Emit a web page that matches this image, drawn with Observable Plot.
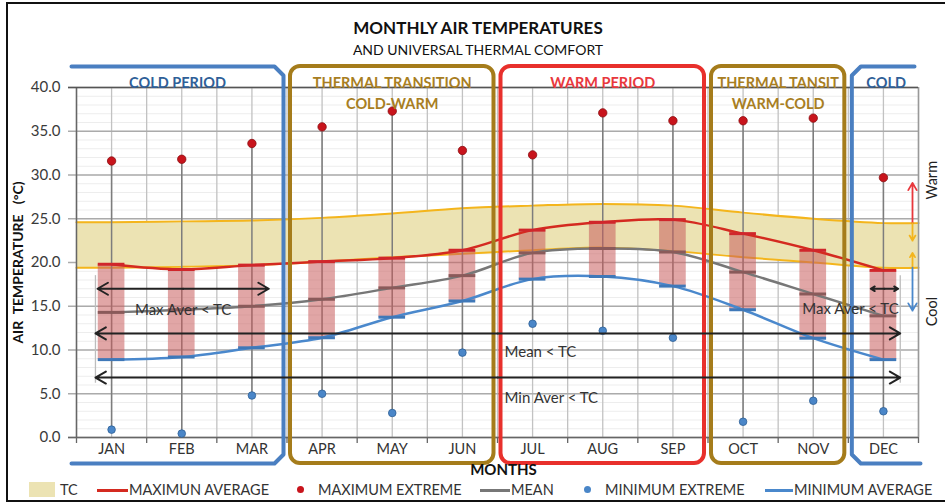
<!DOCTYPE html>
<html>
<head>
<meta charset="utf-8">
<script src="https://cdn.jsdelivr.net/npm/d3@7"></script>
<script src="https://cdn.jsdelivr.net/npm/@observablehq/plot@0.6"></script>
<style>
  body { margin: 0; background: #fff; font-family: Lato, "Open Sans", sans-serif; }
  #wrap { position: relative; width: 945px; height: 504px; overflow: hidden; background: #fff; }
  #chart { position: absolute; left: 0; top: 0; }
  #border { position: absolute; left: 6px; top: 2px; width: 960px; height: 500px; border: 2px solid #111; border-right: none; box-sizing: border-box; pointer-events: none; }
  .ttl { position: absolute; left: 0; width: 956px; text-align: center; color: #111; white-space: nowrap; }
  .leg { position: absolute; top: 481px; height: 18px; font-size: 14.5px; color: #333; line-height: 18px; white-space: nowrap; }
  .sw { position: absolute; }
</style>
</head>
<body>
<div id="wrap">
  <div id="chart"></div>
  <div class="ttl" style="top:17px;font-size:17px;font-weight:bold;">MONTHLY AIR TEMPERATURES</div>
  <div class="ttl" style="top:41px;font-size:14px;">AND UNIVERSAL THERMAL COMFORT</div>
  <div id="legend"></div>
  <div id="border"></div>
</div>
<script>
// ---------- data ----------
const months = ["JAN","FEB","MAR","APR","MAY","JUN","JUL","AUG","SEP","OCT","NOV","DEC"];
const maxExtreme = [31.6, 31.8, 33.6, 35.5, 37.3, 32.8, 32.3, 37.1, 36.2, 36.2, 36.5, 29.7];
const minExtreme = [0.9, 0.45, 4.8, 5.0, 2.8, 9.7, 13.0, 12.2, 11.4, 1.8, 4.2, 3.0];
const maxAverage = [19.8, 19.2, 19.7, 20.1, 20.5, 21.4, 23.7, 24.6, 24.9, 23.3, 21.4, 19.1];
const meanTemp   = [14.3, 14.6, 15.0, 15.8, 17.1, 18.5, 21.1, 21.6, 21.2, 18.9, 16.4, 13.9];
const minAverage = [8.9, 9.2, 10.25, 11.4, 13.75, 15.6, 18.1, 18.4, 17.3, 14.6, 11.35, 8.9];
const tcUpper    = [24.6, 24.7, 24.8, 25.1, 25.6, 26.2, 26.5, 26.7, 26.5, 25.7, 25.0, 24.5];
const tcLower    = [19.4, 19.5, 19.7, 20.1, 20.6, 21.0, 21.4, 21.7, 21.3, 20.6, 20.0, 19.4];
const yTicks = [0, 5, 10, 15, 20, 25, 30, 35, 40];

const periodLine1  = ["COLD PERIOD", "THERMAL TRANSITION", "WARM PERIOD", "THERMAL TANSIT", "COLD"];
const periodLine2  = ["", "COLD-WARM", "", "WARM-COLD", ""];
const periodStart  = [0, 3, 6, 9, 11];
const periodEnd    = [2, 5, 8, 10, 11];
const periodColor  = ["#4a7fc1", "#a57c1b", "#e8302c", "#a57c1b", "#4a7fc1"];
const periodText   = ["#2f5f98", "#a87e22", "#e8383d", "#a87e22", "#2f5f98"];
const periodOpen   = ["left", null, null, null, "right"];

const noteTexts = ["Max Aver < TC", "Mean < TC", "Min Aver < TC", "Max Aver < TC"];
const noteX     = [1.02, 5.6, 5.6, 10.53];
const noteY     = [14.5, 9.7, 4.55, 14.7];
const noteAnchor= ["middle", "start", "start", "middle"];
const arrowX1   = [-0.2, 10.82, -0.23, -0.23];
const arrowX2   = [2.24, 11.21, 11.24, 11.24];
const arrowY    = [17.0, 17.0, 11.9, 6.85];

const yLabel = "AIR\u00a0\u00a0TEMPERATURE\u00a0\u00a0\u00a0(°C)";
const xLabel = "MONTHS";
const legendLabels = ["TC", "MAXIMUN AVERAGE", "MAXIMUM EXTREME", "MEAN", "MINIMUM EXTREME", "MINIMUM AVERAGE"];

// ---------- layout ----------
const W = 945, H = 504, mL = 76, mR = 27, mT = 87, mB = 67;
const kx = (W - mL - mR) / months.length;   // px per month
const ky = (H - mT - mB) / 40;              // px per degree
const half = 0.19;                          // half bar width (months)

const rows = months.map((m, i) => ({
  i, m, maxExt: maxExtreme[i], minExt: minExtreme[i], maxAvg: maxAverage[i],
  mean: meanTemp[i], minAvg: minAverage[i], up: tcUpper[i], lo: tcLower[i]
}));
const n = months.length;
const tcRows = [{i: -0.5, up: tcUpper[0], lo: tcLower[0]}, ...rows, {i: n - 0.5, up: tcUpper[n-1], lo: tcLower[n-1]}];
const halfSteps = d3.range(-0.5, n, 0.5);
const boundaries = d3.range(-0.5, n, 1);

// period boxes
const boxTop = 40 + (mT - 66) / ky;
const boxBot = -(463 - (H - mB)) / ky;
const ins = 3.5 / kx;
const closedBoxes = [], openLines = [], periodRows = [];
const cx = 9 / kx, cy = 9 / ky;
periodLine1.forEach((nm, p) => {
  let x1 = periodStart[p] - 0.5 + ins, x2 = periodEnd[p] + 0.5 - ins;
  if (!periodOpen[p]) closedBoxes.push({x1, x2, c: periodColor[p]});
  else if (periodOpen[p] === "left") {
    x1 = -0.5 - 5 / kx;
    [[x1, boxTop], [x2 - cx, boxTop], [x2, boxTop - cy], [x2, boxBot + cy], [x2 - cx, boxBot], [x1, boxBot]]
      .forEach(([x, y]) => openLines.push({x, y, p, c: periodColor[p]}));
  } else {
    x2 = n - 0.5 + 2 / kx;
    [[n - 0.5 - 4 / kx, boxTop], [x1 + cx, boxTop], [x1, boxTop - cy], [x1, boxBot + cy], [x1 + cx, boxBot], [x2, boxBot]]
      .forEach(([x, y]) => openLines.push({x, y, p, c: periodColor[p]}));
  }
  periodRows.push({t1: nm, t2: periodLine2[p], x: (x1 + x2) / 2, c: periodText[p]});
});

// black arrows (double headed: two arrows from the middle)
const blackArrows = [];
arrowY.forEach((y, k) => {
  const mid = (arrowX1[k] + arrowX2[k]) / 2;
  blackArrows.push({x1: mid, x2: arrowX1[k], y}, {x1: mid, x2: arrowX2[k], y});
});
const notes = noteTexts.map((t, k) => ({t, x: noteX[k], y: noteY[k], a: noteAnchor[k]}));

// warm / cool arrows at right
const ax = n - 0.5 - 6 / kx;
const warmCool = [
  {y1: tcUpper[n-1], y2: 29.1, c: "#e8383d"},
  {y1: tcUpper[n-1], y2: 22.5, c: "#f4b51c"},
  {y1: tcLower[n-1], y2: 21.1, c: "#f4b51c"},
  {y1: tcLower[n-1], y2: 14.5, c: "#4a88cc"}
].map(d => ({...d, x: ax}));

const plot = Plot.plot({
  width: W, height: H,
  marginLeft: mL, marginRight: mR, marginTop: mT, marginBottom: mB,
  x: {domain: [-0.5, n - 0.5], axis: null},
  y: {domain: [0, 40], axis: null},
  style: {fontFamily: "Lato, 'Open Sans', sans-serif", fontSize: "14px", color: "#333", background: "transparent", overflow: "visible"},
  marks: [
    // grid
    Plot.ruleY(d3.range(0, 41, 1), {stroke: "#ededed", strokeWidth: 1}),
    Plot.ruleX(halfSteps, {stroke: "#c2c2c2", strokeWidth: 1.3}),
    Plot.ruleY(yTicks, {x1: -0.5 - 8 / kx, x2: n - 0.5, stroke: "#ababab", strokeWidth: 1.4}),
    // TC band
    Plot.areaY(tcRows, {x: "i", y1: "lo", y2: "up", fill: "#ece3b3", curve: "catmull-rom"}),
    Plot.lineY(tcRows, {x: "i", y: "up", stroke: "#f4b51c", strokeWidth: 2, curve: "catmull-rom"}),
    Plot.lineY(tcRows, {x: "i", y: "lo", stroke: "#f4b51c", strokeWidth: 2, curve: "catmull-rom"}),
    // axes lines
    Plot.ruleX([-0.5], {stroke: "#666", strokeWidth: 1.5}),
    Plot.ruleX([n - 0.5], {stroke: "#999", strokeWidth: 1.5}),
    Plot.ruleY([0], {x1: -0.5 - 8 / kx, x2: n - 0.5, stroke: "#666", strokeWidth: 1.5}),
    Plot.ruleY([40], {x1: -0.5 - 8 / kx, x2: n - 0.5, stroke: "#555", strokeWidth: 1.5}),
    Plot.ruleX(boundaries, {y1: 0, y2: -6 / ky, stroke: "#666", strokeWidth: 1.3}),
    // end markers of annotation arrows
    Plot.ruleX([arrowX1[2], arrowX2[2]], {y1: 6.2, y2: 18.5, stroke: "#bdbdbd", strokeWidth: 1.3}),
    // stems
    Plot.ruleX(rows, {x: "i", y1: "minExt", y2: "maxExt", stroke: "#7d7d7d", strokeWidth: 1.5}),
    // bars
    Plot.rect(rows, {x1: d => d.i - half, x2: d => d.i + half, y1: "minAvg", y2: "maxAvg", fill: "#c85c5c", fillOpacity: 0.55}),
    // lines
    Plot.lineY(rows, {x: "i", y: "mean", stroke: "#777", strokeWidth: 2.5, curve: "catmull-rom"}),
    Plot.lineY(rows, {x: "i", y: "minAvg", stroke: "#4a88cc", strokeWidth: 2.5, curve: "catmull-rom"}),
    Plot.lineY(rows, {x: "i", y: "maxAvg", stroke: "#d42a20", strokeWidth: 2.5, curve: "catmull-rom"}),
    // markers
    Plot.ruleY(rows, {x1: d => d.i - half, x2: d => d.i + half, y: "mean", stroke: "#8a5a5a", strokeWidth: 3}),
    Plot.ruleY(rows, {x1: d => d.i - half, x2: d => d.i + half, y: "minAvg", stroke: "#3f78b8", strokeWidth: 3}),
    Plot.ruleY(rows, {x1: d => d.i - half, x2: d => d.i + half, y: "maxAvg", stroke: "#d0262b", strokeWidth: 3}),
    // extremes
    Plot.dot(rows, {x: "i", y: "maxExt", r: 4.2, fill: "#c8141c", stroke: "#8a0e12", strokeWidth: 0.8}),
    Plot.dot(rows, {x: "i", y: "minExt", r: 3.8, fill: "#4a86c8", stroke: "#2d5f96", strokeWidth: 0.8}),
    // period boxes
    Plot.rect(closedBoxes, {x1: "x1", x2: "x2", y1: boxBot, y2: boxTop, rx: 10, ry: 10, fill: "none", stroke: "c", strokeWidth: 4}),
    Plot.line(openLines, {x: "x", y: "y", z: "p", stroke: "c", strokeWidth: 4, strokeLinejoin: "round", curve: "linear"}),
    Plot.text(periodRows, {x: "x", frameAnchor: "top", textAnchor: "middle", dy: -10, text: "t1", fill: "c", fontWeight: "bold", fontSize: 14.5}),
    Plot.text(periodRows, {x: "x", frameAnchor: "top", textAnchor: "middle", dy: 11, text: "t2", fill: "c", fontWeight: "bold", fontSize: 14.5}),
    // black annotation arrows & notes
    Plot.arrow(blackArrows, {x1: "x1", x2: "x2", y1: "y", y2: "y", stroke: "#222", strokeWidth: 2, headLength: 9}),
    Plot.text(notes.filter(d => d.a === "middle"), {x: "x", y: "y", text: "t", textAnchor: "middle", fill: "#333", fontSize: 15}),
    Plot.text(notes.filter(d => d.a === "start"), {x: "x", y: "y", text: "t", textAnchor: "start", fill: "#333", fontSize: 15}),
    // warm / cool arrows
    Plot.arrow(warmCool, {x1: "x", x2: "x", y1: "y1", y2: "y2", stroke: "c", strokeWidth: 1.8, headLength: 7}),
    Plot.text(["Warm"], {x: n - 0.5, dx: 14, y: 29.4, rotate: -90, textAnchor: "middle", fontSize: 14.5, fill: "#222"}),
    Plot.text(["Cool"], {x: n - 0.5, dx: 14, y: 14.4, rotate: -90, textAnchor: "middle", fontSize: 14.5, fill: "#222"}),
    // axis labels
    Plot.text(yTicks, {y: d => d, text: d => d.toFixed(1), frameAnchor: "left", textAnchor: "end", dx: -16, fontSize: 15, fill: "#3a3a3a"}),
    Plot.text(rows, {x: "i", text: "m", frameAnchor: "bottom", textAnchor: "middle", dy: 16, fontSize: 14.5, fill: "#333"}),
    Plot.text([yLabel], {frameAnchor: "left", textAnchor: "middle", dx: -58, rotate: -90, fontWeight: "bold", fontSize: 14, fill: "#111"}),
    Plot.text([xLabel], {frameAnchor: "bottom", textAnchor: "middle", dx: 6, dy: 37, fontWeight: "bold", fontSize: 15, fill: "#111"})
  ]
});
document.getElementById("chart").appendChild(plot);

// ---------- legend ----------
const leg = document.getElementById("legend");
const items = [
  {kind: "swatch", x: 29, tx: 60},
  {kind: "line", c: "#d42a20", x: 97, w: 31, tx: 129},
  {kind: "dot", c: "#c8141c", x: 297, tx: 318},
  {kind: "line", c: "#777", x: 480, w: 30, tx: 511},
  {kind: "dot", c: "#4a86c8", x: 584, tx: 605},
  {kind: "line", c: "#4a88cc", x: 765, w: 28, tx: 794}
];
items.forEach((it, k) => {
  const s = document.createElement("div");
  s.className = "sw";
  if (it.kind === "swatch") Object.assign(s.style, {left: it.x + "px", top: "482px", width: "26px", height: "15px", background: "#ece3b3"});
  if (it.kind === "line") Object.assign(s.style, {left: it.x + "px", top: "489px", width: it.w + "px", height: "2.5px", background: it.c});
  if (it.kind === "dot") Object.assign(s.style, {left: it.x + "px", top: "486px", width: "7px", height: "7px", borderRadius: "50%", background: it.c});
  leg.appendChild(s);
  const t = document.createElement("div");
  t.className = "leg";
  t.style.left = it.tx + "px";
  t.textContent = legendLabels[k];
  leg.appendChild(t);
});
</script>
</body>
</html>
